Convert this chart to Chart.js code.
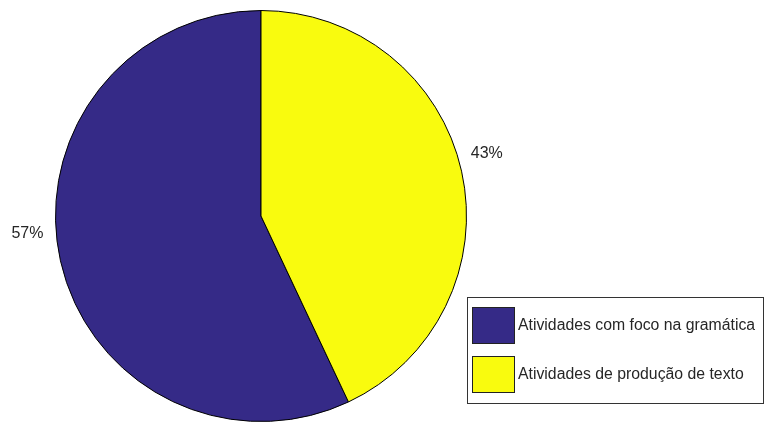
<!DOCTYPE html>
<html>
<head>
<meta charset="utf-8">
<script src="https://cdn.jsdelivr.net/npm/chart.js@4/dist/chart.umd.min.js"></script>
<style>
  html, body { margin: 0; padding: 0; background: #fff; }
  #wrap { width: 764px; height: 422px; }
</style>
</head>
<body>
<div id="wrap"><canvas id="pie"></canvas></div>
<script>
const categories = ["Atividades com foco na gramática", "Atividades de produção de texto"];
const values = [57, 43];
const colors = ["#352a87", "#f9fb0e"];

const total = values.reduce((a, b) => a + b, 0);
const FONT = "'Liberation Sans', Arial, sans-serif";

// small angular tweaks (degrees) so the % labels sit beside their slices
const labelNudge = [8.2, -2.9];

const pctLabels = {
  id: "pctLabels",
  afterDatasetsDraw(chart) {
    const ctx = chart.ctx;
    const arcs = chart.getDatasetMeta(0).data;
    ctx.save();
    ctx.font = "16px " + FONT;
    ctx.fillStyle = "#262626";
    ctx.textAlign = "center";
    ctx.textBaseline = "middle";
    arcs.forEach((arc, i) => {
      const p = arc.getProps(["x", "y", "startAngle", "endAngle", "outerRadius"]);
      const mid = (p.startAngle + p.endAngle) / 2 + labelNudge[i] * Math.PI / 180;
      const d = p.outerRadius * 1.14;
      const txt = Math.round(values[i] / total * 100) + "%";
      ctx.fillText(txt, p.x + Math.cos(mid) * d, p.y + Math.sin(mid) * d);
    });
    ctx.restore();
  }
};

const boxLegend = {
  id: "boxLegend",
  afterDraw(chart) {
    const ctx = chart.ctx;
    const bx = 467, by = 297, bw = 296, bh = 106;
    ctx.save();
    ctx.fillStyle = "#fff";
    ctx.fillRect(bx, by, bw, bh);
    ctx.strokeStyle = "#333";
    ctx.lineWidth = 1;
    ctx.strokeRect(bx + 0.5, by + 0.5, bw, bh);
    ctx.font = "15.8px " + FONT;
    ctx.textBaseline = "middle";
    ctx.textAlign = "left";
    categories.forEach((name, i) => {
      const y = 307 + i * 49;
      ctx.fillStyle = colors[i];
      ctx.fillRect(472, y, 42, 36);
      ctx.strokeStyle = "#222";
      ctx.strokeRect(472.5, y + 0.5, 42, 36);
      ctx.fillStyle = "#262626";
      ctx.fillText(name, 518, y + 19);
    });
    ctx.restore();
  }
};

new Chart(document.getElementById("pie"), {
  type: "pie",
  data: {
    labels: categories,
    datasets: [{
      data: values,
      backgroundColor: colors,
      borderColor: "#000",
      borderWidth: 1
    }]
  },
  options: {
    responsive: true,
    maintainAspectRatio: false,
    animation: false,
    rotation: 360 * values[1] / total,
    layout: { padding: { left: 55, right: 297, top: 10, bottom: 0 } },
    plugins: {
      legend: { display: false },
      tooltip: { enabled: false }
    }
  },
  plugins: [pctLabels, boxLegend]
});
</script>
</body>
</html>
